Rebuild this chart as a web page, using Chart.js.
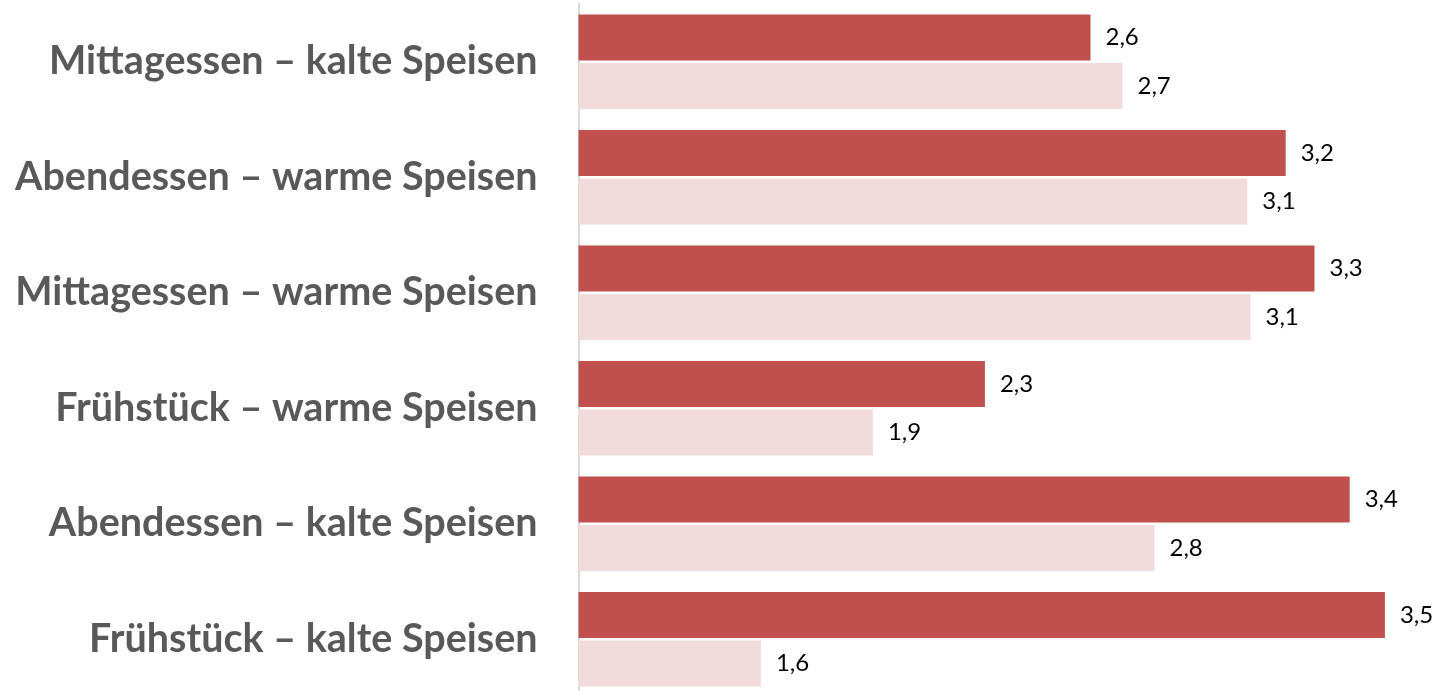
<!DOCTYPE html>
<html lang="de">
<head>
<meta charset="utf-8">
<title>Speisen</title>
<script src="https://cdn.jsdelivr.net/npm/chart.js@4/dist/chart.umd.min.js"></script>
<style>
    html, body { margin: 0; padding: 0; background: #fff; overflow: hidden; }
    #wrap { position: relative; width: 1451px; height: 697px; }
</style>
</head>
<body>
<div id="wrap"><canvas id="speisenChart"></canvas></div>
<script>
const categories = [
    'Mittagessen – kalte Speisen',
    'Abendessen – warme Speisen',
    'Mittagessen – warme Speisen',
    'Frühstück – warme Speisen',
    'Abendessen – kalte Speisen',
    'Frühstück – kalte Speisen'
];
// labels are rounded to one decimal
const serieA = [2.60, 3.21, 3.30, 2.27, 3.41, 3.52];
const serieB = [2.70, 3.09, 3.10, 1.92, 2.80, 1.57];

const colorA = '#C0504D';
const colorB = '#F2DCDB';

// Werte neben den Balken
const valueLabels = {
    id: 'valueLabels',
    afterDatasetsDraw(chart) {
        const ctx = chart.ctx;
        ctx.save();
        ctx.font = '24px Lato';
        ctx.fillStyle = '#000000';
        ctx.textAlign = 'left';
        ctx.textBaseline = 'middle';
        chart.data.datasets.forEach((ds, i) => {
            chart.getDatasetMeta(i).data.forEach((bar, j) => {
                const txt = ds.data[j].toFixed(1).replace('.', ',');
                ctx.fillText(txt, bar.x + 15, bar.y);
            });
        });
        ctx.restore();
    }
};

document.addEventListener('DOMContentLoaded', () => {
    const ctx = document.getElementById('speisenChart');

    new Chart(ctx, {
        type: 'bar',
        data: {
            labels: categories,
            datasets: [
                {
                    label: 'A',
                    data: serieA,
                    backgroundColor: colorA,
                    borderWidth: 0,
                    categoryPercentage: 0.839,
                    barPercentage: 0.949
                },
                {
                    label: 'B',
                    data: serieB,
                    backgroundColor: colorB,
                    borderWidth: 0,
                    categoryPercentage: 0.839,
                    barPercentage: 0.949
                }
            ]
        },
        options: {
            indexAxis: 'y',
            responsive: true,
            maintainAspectRatio: false,
            animation: false,
            layout: { padding: { top: 4, right: 8.5, bottom: 0, left: 0 } },
            plugins: {
                legend: { display: false },
                tooltip: { enabled: false }
            },
            scales: {
                x: {
                    display: false,
                    min: 1,
                    max: 3.7
                },
                y: {
                    afterFit: (scale) => {
                        scale.width = 578.5;
                        scale.paddingTop = 0;
                        scale.paddingBottom = 0;
                    },
                    grid: { display: false, drawTicks: false },
                    border: { display: true, color: '#D9D9D9', width: 2 },
                    ticks: {
                        padding: 41,
                        color: '#595959',
                        font: { family: 'Lato', size: 39.5, weight: 'bold' }
                    }
                }
            }
        },
        plugins: [valueLabels]
    });
});
</script>
</body>
</html>
